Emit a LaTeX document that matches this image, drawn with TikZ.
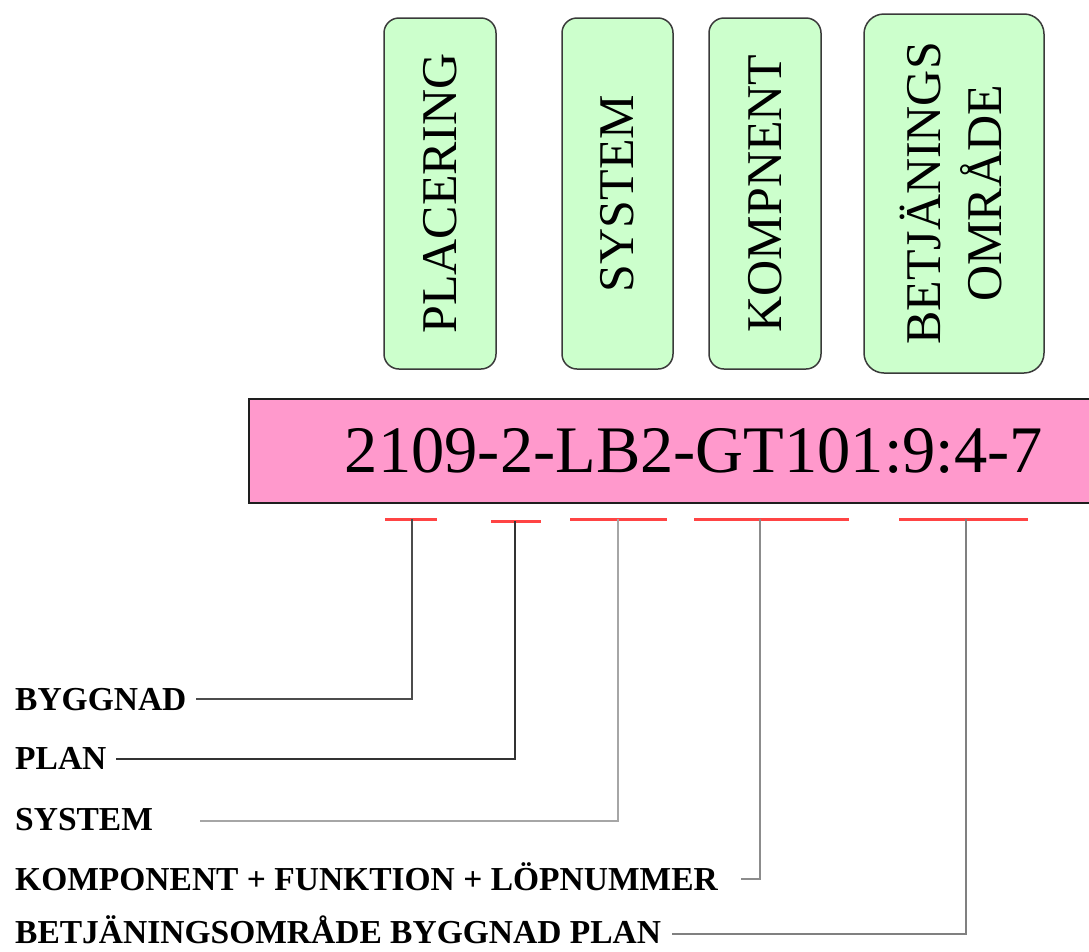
\documentclass[tikz,border=0pt]{standalone}
\usepackage{fontspec}
\setmainfont{Liberation Serif}
\definecolor{tagfill}{HTML}{CCFFCC}
\definecolor{tagedge}{HTML}{3A3A3A}
\definecolor{codefill}{HTML}{FF99CC}
\definecolor{codeedge}{HTML}{1E1E1E}
\definecolor{barred}{HTML}{FF4444}
\begin{document}
\begin{tikzpicture}[x=1pt,y=-1pt,
  tag/.style={draw=tagedge, line width=1.5pt, fill=tagfill, rounded corners=15pt,
    rotate=90, inner sep=0pt, align=center, font=\fontsize{50}{61}\selectfont},
  codebox/.style={draw=codeedge, line width=2pt, fill=codefill, inner sep=0pt,
    font=\fontsize{66.5}{80}\selectfont},
  lbl/.style={anchor=base west, inner sep=0pt, font=\bfseries\fontsize{33.5}{40}\selectfont},
  redbar/.style={draw=barred, line width=3pt},
  lead/.style={line width=2pt}]

\useasboundingbox (0,0) rectangle (1089,951);

% category tags above the code
\node[tag, minimum width=351pt, minimum height=112pt] (placering) at (440,193.5) {PLACERING};
\node[tag, minimum width=351pt, minimum height=111pt] (system) at (617.5,193.5) {SYSTEM};
\node[tag, minimum width=351pt, minimum height=112pt] (kompnent) at (765,193.5) {KOMPNENT};
\node[tag, rounded corners=20pt, minimum width=359pt, minimum height=180pt,
      text height=94pt, text depth=0pt] (betj) at (954,193.5) {BETJÄNINGS\\OMRÅDE};

% the designation code
\node[codebox, minimum width=890pt, minimum height=104pt] (code) at (694,451) {2109-2-LB2-GT101:9:4-7};

% underline segments and their tick points
\coordinate (t1) at (412,519);
\coordinate (t2) at (515,521);
\coordinate (t3) at (618,519);
\coordinate (t4) at (760,519);
\coordinate (t5) at (966,519);
\draw[redbar] (385,519) -- (437,519);
\draw[redbar] (491,521) -- (541,521);
\draw[redbar] (570,519) -- (667,519);
\draw[redbar] (694,519) -- (849,519);
\draw[redbar] (899,519) -- (1028,519);

% legend labels
\node[lbl] (byg)  at (15,710) {BYGGNAD};
\node[lbl] (plan) at (15,769) {PLAN};
\node[lbl] (sys)  at (15,830) {SYSTEM};
\node[lbl] (komp) at (15,890) {KOMPONENT + FUNKTION + LÖPNUMMER};
\node[lbl] (bo)   at (15,943) {BETJÄNINGSOMRÅDE BYGGNAD PLAN};

% start points of the leader lines
\coordinate (s1) at (196,699);
\coordinate (s2) at (116,759);
\coordinate (s3) at (200,821);
\coordinate (s4) at (741,879);
\coordinate (s5) at (672,934);

\draw[lead, draw=black!70] (s1) -| (t1);
\draw[lead, draw=black!80] (s2) -| (t2);
\draw[lead, draw=black!35] (s3) -| (t3);
\draw[lead, draw=black!45] (s4) -| (t4);
\draw[lead, draw=black!50] (s5) -| (t5);
\end{tikzpicture}
\end{document}
